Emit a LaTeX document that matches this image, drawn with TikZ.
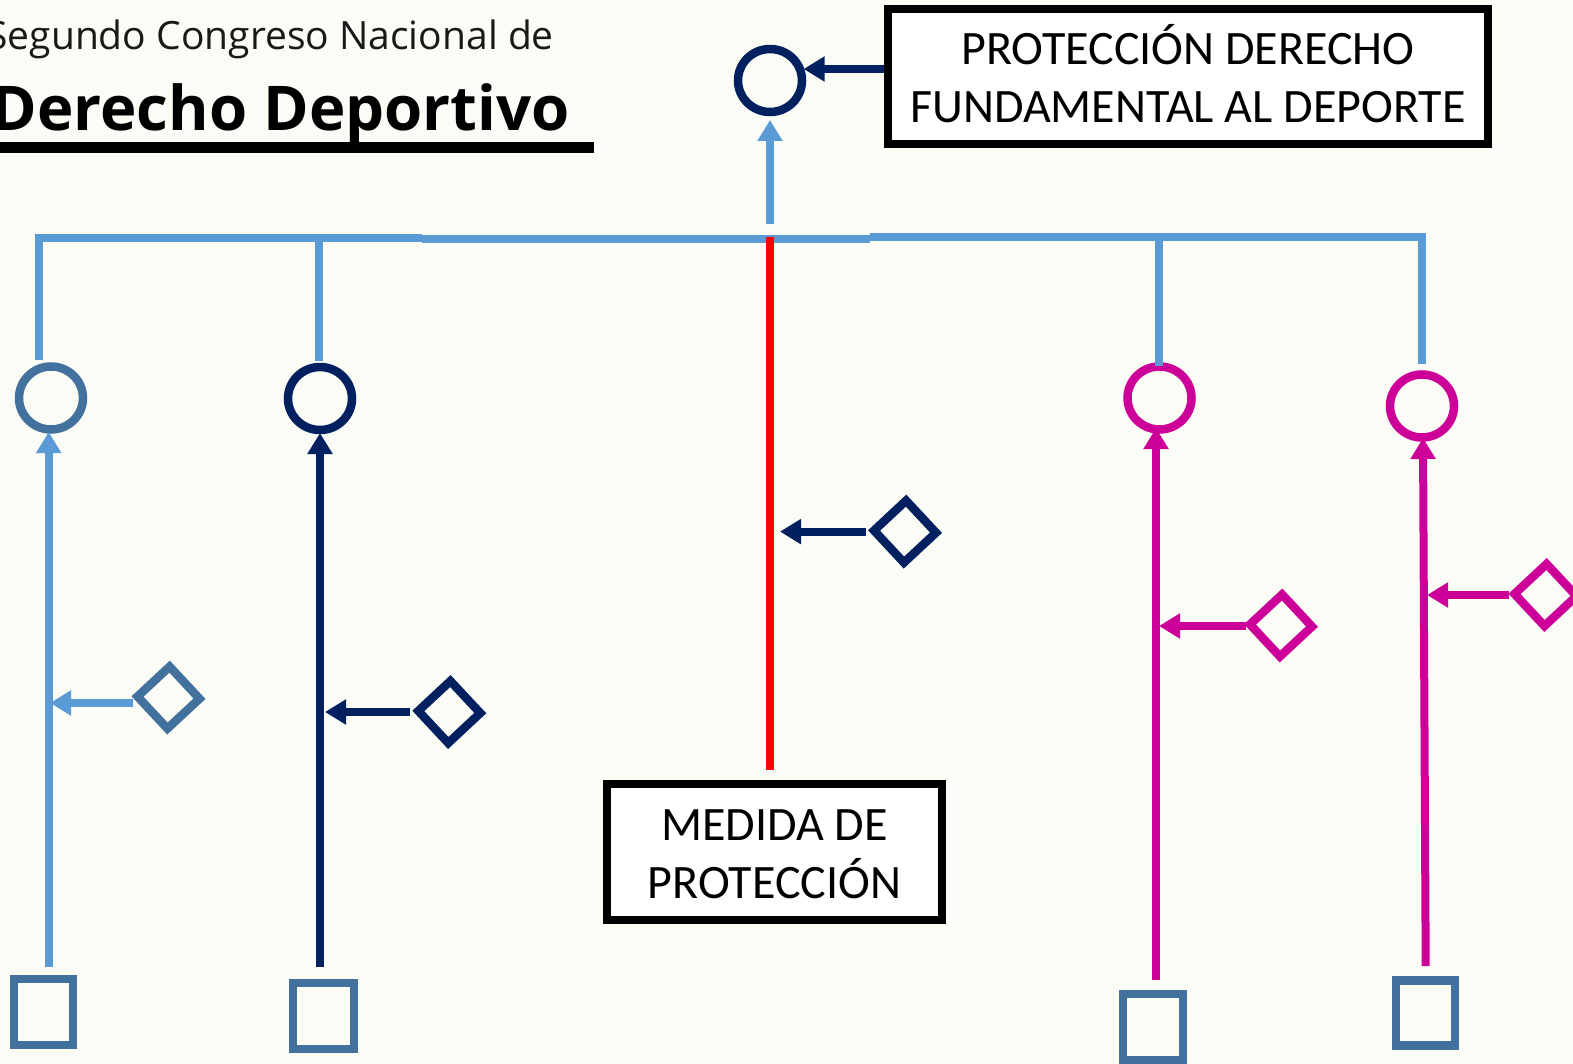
\documentclass[tikz,border=0pt]{standalone}
\usepackage{fontspec}
\setmainfont{Carlito}
\newfontfamily\titlefont{Open Sans}
\usetikzlibrary{arrows.meta,shapes.geometric}
\definecolor{bgc}{HTML}{FBFCF6}
\definecolor{lblue}{HTML}{5B9BD5}
\definecolor{steel}{HTML}{41719C}
\definecolor{navy}{HTML}{002060}
\definecolor{mag}{HTML}{CC0099}
\tikzset{
  x=1pt,y=-1pt,
  base/.style={line width=8pt,line cap=butt},
  ring/.style={draw=#1,line width=8.5pt,ellipse,inner sep=0pt,outer sep=0pt,minimum width=64pt,minimum height=63pt},
  gem/.style={draw=#1,line width=8.5pt,diamond,aspect=1,inner sep=0pt,outer sep=0pt,minimum width=62pt,minimum height=62pt,rotate=-2},
  sq/.style={draw=steel,line width=8.5pt,rectangle,inner sep=0pt,outer sep=0pt},
  labelbox/.style={draw=black,fill=white,line width=8.5pt,rectangle,inner sep=0pt,outer sep=0pt,align=center,font=\fontsize{48}{58}\selectfont},
  arr/.style={base,draw=#1,-{Triangle[width=24pt,length=21pt,fill=#1]}},
  bar/.style={base,draw=lblue,line join=miter},
}
\begin{document}
\begin{tikzpicture}
\useasboundingbox (0,0) rectangle (1573,1064);
\clip (0,0) rectangle (1573,1064);
\fill[bgc] (0,0) rectangle (1573,1064);

% heading
\node[anchor=base east,inner sep=0pt,font=\titlefont\fontsize{39}{46}\selectfont,text=black!90] (sub) at (554,50) {Segundo Congreso Nacional de};
\node[anchor=base east,inner sep=0pt,font=\titlefont\bfseries\fontsize{61.7}{70}\selectfont] (head) at (570,131) {Derecho Deportivo};
\fill[black] (-5,142.5) rectangle (594,153);

% nodes
\node[ring=navy] (c0) at (770,80.5) {};
\node[ring=steel] (c1) at (51,398) {};
\node[ring=navy] (c2) at (320,398.5) {};
\node[ring=mag] (c4) at (1159.5,398) {};
\node[ring=mag] (c5) at (1422,406) {};

\node[gem=steel] (d1) at (168.5,697.6) {};
\node[gem=navy] (d2) at (449.3,712) {};
\node[gem=navy] (d3) at (905,531.6) {};
\node[gem=mag] (d4) at (1281,625.5) {};
\node[gem=mag] (d5) at (1545.5,595) {};

\node[sq,minimum width=59pt,minimum height=66pt] (s1) at (43.5,1012) {};
\node[sq,minimum width=61pt,minimum height=66pt] (s2) at (323.5,1016) {};
\node[sq,minimum width=60pt,minimum height=66pt] (s4) at (1153,1027) {};
\node[sq,minimum width=59pt,minimum height=65pt] (s5) at (1425.5,1013) {};

\node[labelbox,minimum width=600pt,minimum height=135pt] (top) at (1188,76.5) {PROTECCIÓN DERECHO\\FUNDAMENTAL AL DEPORTE\rule[-6pt]{0pt}{0pt}};
\node[labelbox,minimum width=335pt,minimum height=136pt] (med) at (774.5,852) {\rule{0pt}{36pt}MEDIDA DE\\PROTECCIÓN};

% junction points on the horizontal bar
\coordinate (j1) at (39,237.7);
\coordinate (j2) at (319.3,237.7);
\coordinate (jl) at (422,237.7);
\coordinate (ml) at (422,239);
\coordinate (mr) at (870,239);
\coordinate (rl) at (870,237);
\coordinate (j4) at (1159,237);
\coordinate (j5) at (1422,237);

% bar and branches
\draw[bar] (39,360) -- (39,233.7) (35,237.7) -- (jl);
\draw[bar] (319.3,361) -- (j2);
\draw[bar] (ml) -- (mr);
\draw[bar] (rl) -- (1426,237) (1422,233) -- (1422,364);
\draw[bar] (j4) -- (1159,366);

% top
\draw[arr=lblue] (770,224) -- (770,120);
\draw[arr=navy] (top.west) ++(-4,-7.5) -- (803.6,69);
\draw[base,draw=red] (770,237) -- (770,770);

% verticals
\draw[arr=lblue] (48.7,967) -- (48.7,432);
\draw[arr=navy] (320,967) -- (320,433);
\draw[arr=mag] (1156,980) -- (1156,428);
\draw[arr=mag] (1425.7,966) -- (1423,438);

% horizontals
\draw[arr=lblue] (133,703) -- (50,703);
\draw[arr=navy] (410,712) -- (325,712);
\draw[arr=navy] (866,531.6) -- (780,531.6);
\draw[arr=mag] (1246,626) -- (1159,626);
\draw[arr=mag] (1509,595) -- (1427,595);
\end{tikzpicture}
\end{document}
